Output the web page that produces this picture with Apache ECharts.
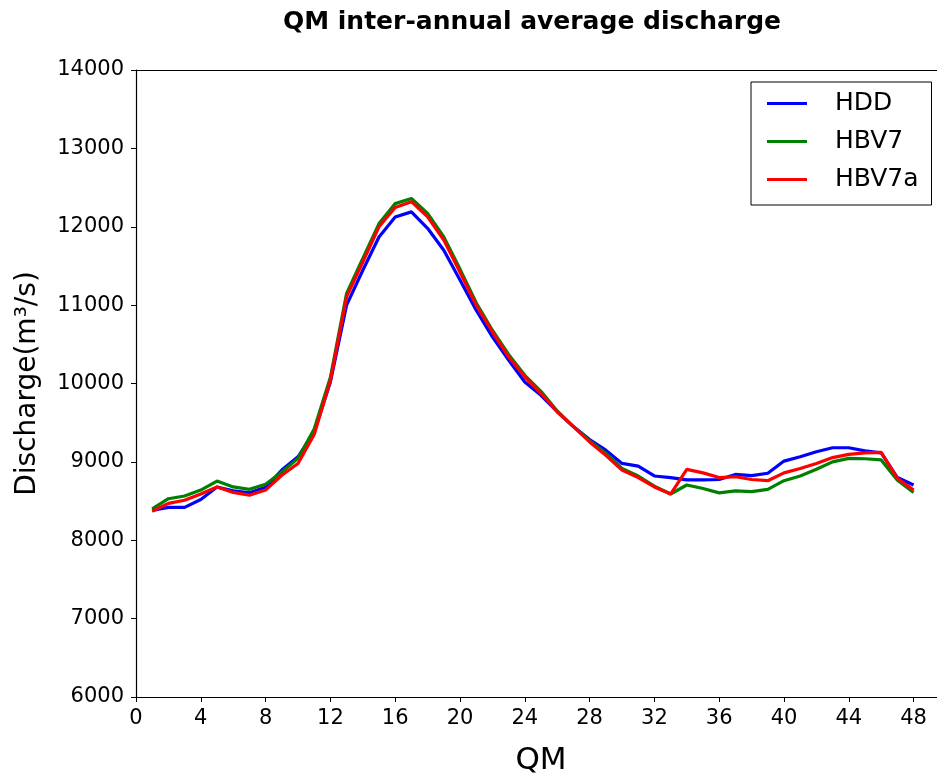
<!DOCTYPE html>
<html>
<head>
<meta charset="utf-8">
<script src="https://cdn.jsdelivr.net/npm/echarts@6/dist/echarts.min.js"></script>
<style>
html,body{margin:0;padding:0;background:#fff;overflow:hidden;}
#chart{width:937px;height:778px;}
</style>
</head>
<body>
<div id="chart"></div>
<script>
const qm = [1,2,3,4,5,6,7,8,9,10,11,12,13,14,15,16,17,18,19,20,21,22,23,24,25,26,27,28,29,30,31,32,33,34,35,36,37,38,39,40,41,42,43,44,45,46,47,48];
const hdd = [8380,8420,8420,8520,8680,8630,8605,8675,8895,9065,9380,10020,11000,11445,11870,12125,12190,11980,11700,11320,10935,10595,10300,10020,9850,9640,9450,9285,9150,8980,8945,8820,8800,8770,8770,8775,8840,8825,8855,9010,9065,9130,9180,9180,9140,9115,8800,8705];
const hbv7 = [8400,8530,8565,8640,8755,8680,8650,8715,8870,9045,9420,10080,11150,11595,12040,12295,12360,12170,11870,11460,11030,10680,10370,10105,9900,9650,9450,9270,9110,8915,8820,8690,8590,8705,8660,8605,8630,8620,8650,8760,8820,8905,9000,9045,9040,9025,8765,8610];
const hbv7a = [8370,8470,8510,8590,8680,8610,8575,8640,8830,8980,9350,10040,11105,11550,12000,12245,12320,12125,11830,11420,11000,10660,10340,10085,9875,9640,9450,9255,9085,8895,8800,8680,8590,8905,8860,8800,8810,8775,8760,8860,8915,8980,9055,9095,9115,9120,8790,8640];
const seriesNames = ['HDD','HBV7','HBV7a'];
const seriesColors = ['#0000ff','#008000','#ff0000'];
const xTicks = [0,4,8,12,16,20,24,28,32,36,40,44,48];
const yTicks = [6000,7000,8000,9000,10000,11000,12000,13000,14000];

const seriesValues = [hdd, hbv7, hbv7a];
const font = 'DejaVu Sans';
const chart = echarts.init(document.getElementById('chart'), null, {renderer:'canvas'});
chart.setOption({
  animation:false,
  backgroundColor:'#fff',
  title:{
    text:'QM inter-annual average discharge',
    left:527, textAlign:'center', top:5,
    textStyle:{fontFamily:font, fontWeight:'bold', fontSize:25, color:'#000'}
  },
  legend:{
    orient:'vertical', left:751, top:82,
    backgroundColor:'#fff', borderColor:'#000', borderWidth:1,
    padding:[9,13,13,16], itemGap:13, itemWidth:40, itemHeight:3,
    icon:'rect',
    textStyle:{fontFamily:font, fontSize:25, color:'#000', padding:[0,0,0,23]},
    data: seriesNames
  },
  grid:{left:136, top:70, width:810, height:627, show:false, outerBoundsMode:'none', containLabel:false},
  xAxis:[{
    type:'value', min:0, max:50, interval:4,
    name:'QM', nameLocation:'middle', nameGap:48,
    nameTextStyle:{fontFamily:font, fontSize:31, color:'#000'},
    axisLine:{show:true, lineStyle:{color:'#000', width:1.2}},
    axisTick:{show:true, length:5, inside:false, lineStyle:{color:'#000'}},
    axisLabel:{fontFamily:font, fontSize:21, color:'#000', margin:11, showMaxLabel:false,
      formatter:v=> xTicks.indexOf(v)>=0 ? String(v) : ''},
    splitLine:{show:false}
  },{
    type:'value', min:0, max:50, position:'top',
    axisLine:{show:true, lineStyle:{color:'#000', width:1.2}},
    axisTick:{show:false}, axisLabel:{show:false}, splitLine:{show:false}
  }],
  yAxis:{
    type:'value', min:6000, max:14000, interval:1000,
    name:'Discharge(m³/s)', nameLocation:'middle', nameGap:94, nameRotate:90,
    nameTextStyle:{fontFamily:font, fontSize:28, color:'#000'},
    axisLine:{show:true, lineStyle:{color:'#000', width:1.2}},
    axisTick:{show:true, length:5, inside:false, lineStyle:{color:'#000'}},
    axisLabel:{fontFamily:font, fontSize:21, color:'#000', margin:12,
      formatter:v=> yTicks.indexOf(v)>=0 ? String(v) : ''},
    splitLine:{show:false}
  },
  series: seriesNames.map((n,i)=>({
    name:n, type:'line', symbol:'none', showSymbol:false, xAxisIndex:0,
    data: qm.map((q,j)=>[q, seriesValues[i][j]]),
    lineStyle:{color:seriesColors[i], width:3.2},
    itemStyle:{color:seriesColors[i]},
    z:2+i
  }))
});
</script>
</body>
</html>
